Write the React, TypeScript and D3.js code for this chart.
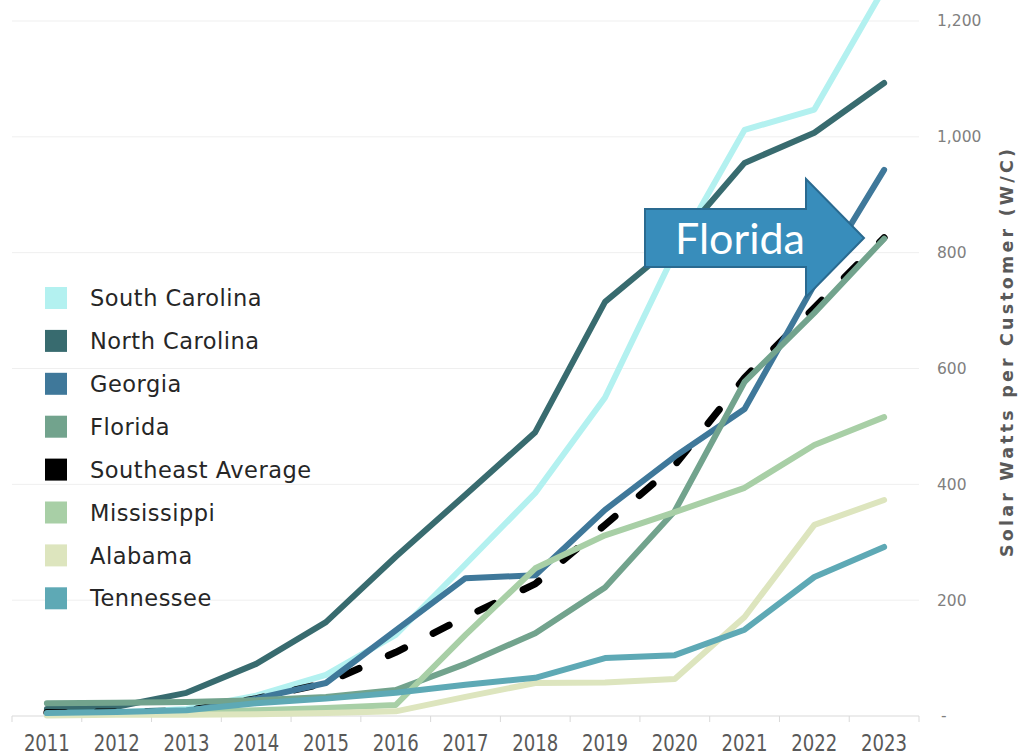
import * as d3 from 'd3';

const years = ['2011', '2012', '2013', '2014', '2015', '2016', '2017', '2018', '2019', '2020', '2021', '2022', '2023'];

const southCarolina = [4, 6, 12, 35, 71, 140, 262, 385, 550, 800, 1012, 1047, 1257];
const northCarolina = [12, 16, 40, 90, 162, 275, 382, 490, 715, 815, 955, 1007, 1093];
const georgia = [3, 5, 8, 30, 57, 148, 238, 243, 356, 448, 530, 745, 943];
const florida = [22, 23, 24, 27, 33, 45, 90, 143, 222, 354, 577, 696, 824];
const southeastAverage = [6, 7, 9, 30, 57, 110, 171, 228, 330, 433, 584, 705, 826];
const mississippi = [3, 5, 7, 10, 14, 19, 140, 255, 312, 352, 394, 468, 516];
const alabama = [1, 2, 2, 3, 5, 8, 33, 57, 58, 64, 171, 330, 373];
const tennessee = [5, 7, 10, 22, 30, 40, 54, 66, 100, 105, 149, 240, 292];

const legendNames = ['South Carolina', 'North Carolina', 'Georgia', 'Florida', 'Southeast Average', 'Mississippi', 'Alabama', 'Tennessee'];
const legendColors = ['#B3F1F0', '#386B6F', '#3F789A', '#72A38D', '#000000', '#A8CFA6', '#DDE5BE', '#5EA9B5'];

const yTicks = [0, 200, 400, 600, 800, 1000, 1200];

const W = 1024;
const H = 756;

type Series = { name: string; values: number[]; color: string; dashed?: boolean };

// drawing order (later = on top)
const series: Series[] = [
  { name: 'South Carolina', values: southCarolina, color: legendColors[0] },
  { name: 'North Carolina', values: northCarolina, color: legendColors[1] },
  { name: 'Southeast Average', values: southeastAverage, color: legendColors[4], dashed: true },
  { name: 'Georgia', values: georgia, color: legendColors[2] },
  { name: 'Florida', values: florida, color: legendColors[3] },
  { name: 'Mississippi', values: mississippi, color: legendColors[5] },
  { name: 'Alabama', values: alabama, color: legendColors[6] },
  { name: 'Tennessee', values: tennessee, color: legendColors[7] },
];

export default function App() {
  const x = d3.scaleBand<string>().domain(years).range([12, 919]).padding(0);
  const y = d3.scaleLinear().domain([0, 1200]).range([716, 21]);
  const cx = (i: number) => (x(years[i]) ?? 0) + x.bandwidth() / 2;

  const line = d3
    .line<number>()
    .x((_, i) => cx(i))
    .y((d) => y(d));

  const fmt = d3.format(',');
  const [x0, x1] = x.range();

  // annotation arrow
  const ax = 645;
  const ay = 238;
  const arrow = [
    [ax, ay - 29],
    [806, ay - 29],
    [806, ay - 59],
    [864, ay],
    [806, ay + 59],
    [806, ay + 29],
    [ax, ay + 29],
  ];

  return (
    <svg
      width={W}
      height={H}
      style={{ position: 'absolute', left: 0, top: 0, background: '#fff' }}
      fontFamily="'DejaVu Sans', sans-serif"
    >
      {/* gridlines */}
      {yTicks.slice(1).map((t) => (
        <line key={t} x1={x0} x2={x1} y1={y(t)} y2={y(t)} stroke="#EFEFEF" strokeWidth={1} />
      ))}
      {/* x axis */}
      <line x1={x0} x2={x1} y1={y(0)} y2={y(0)} stroke="#D9D9D9" strokeWidth={1} />
      {d3.range(years.length + 1).map((i) => {
        const px = x0 + i * x.bandwidth();
        return <line key={i} x1={px} x2={px} y1={y(0)} y2={y(0) + 6} stroke="#D9D9D9" strokeWidth={1} />;
      })}
      {years.map((yr, i) => (
        <text
          key={yr}
          x={cx(i)}
          y={751}
          textAnchor="middle"
          fontSize={23}
          fill="#595959"
          textLength={46}
          lengthAdjust="spacingAndGlyphs"
        >
          {yr}
        </text>
      ))}

      {/* y axis labels on the right */}
      {yTicks.map((t) => (
        <text key={t} x={t === 0 ? 941 : 937} y={y(t)} dy="0.35em" fontSize={15.5} fill="#7F7F7F">
          {t === 0 ? '-' : fmt(t)}
        </text>
      ))}
      <text
        transform={`translate(1013,353) rotate(-90)`}
        textAnchor="middle"
        fontSize={17.5}
        fontWeight="bold"
        fill="#595959"
        textLength={408}
        lengthAdjust="spacing"
      >
        Solar Watts per Customer (W/C)
      </text>

      {/* lines */}
      {series.map((s) => (
        <path
          key={s.name}
          d={line(s.values) ?? ''}
          fill="none"
          stroke={s.color}
          strokeWidth={s.dashed ? 7 : 6}
          strokeLinecap="round"
          strokeLinejoin="round"
          strokeDasharray={s.dashed ? '18 32' : undefined}
        />
      ))}

      {/* legend */}
      {legendNames.map((n, i) => {
        const ly = 298 + i * 42.9;
        return (
          <g key={n}>
            <rect x={45} y={ly - 11} width={22} height={22} fill={legendColors[i]} />
            <text x={90} y={ly} dy="0.36em" fontSize={22.5} letterSpacing={0.5} fill="#262626">
              {n}
            </text>
          </g>
        );
      })}

      {/* Florida arrow annotation */}
      <path
        d={`M${arrow.map((p) => p.join(',')).join('L')}Z`}
        fill="#388DBB"
        stroke="#2A6A90"
        strokeWidth={2}
        strokeLinejoin="miter"
      />
      <text x={740} y={254} textAnchor="middle" fontSize={43} fill="#ffffff" fontFamily="Lato, 'Open Sans', sans-serif">
        Florida
      </text>
    </svg>
  );
}
